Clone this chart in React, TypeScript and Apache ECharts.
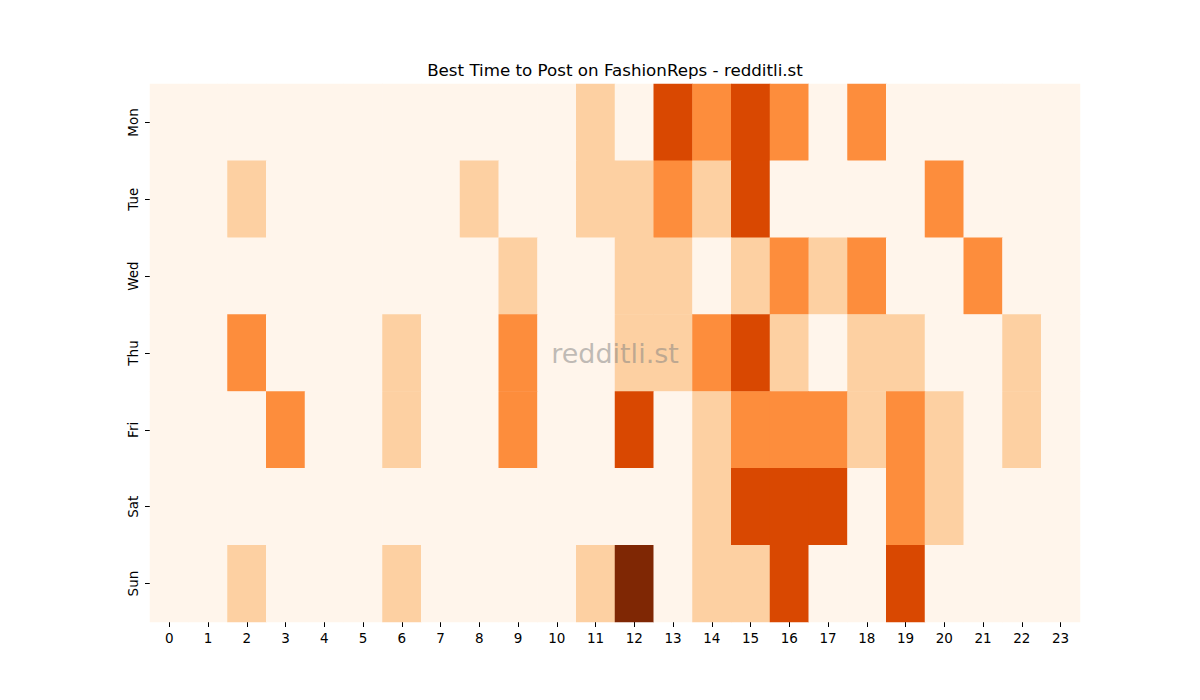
import React, { useEffect, useRef } from "react";
import * as echarts from "echarts";

const hours = Array.from({ length: 24 }, (_, i) => String(i));
const days = ["Mon", "Tue", "Wed", "Thu", "Fri", "Sat", "Sun"];

// Activity level per hour (0 = quiet … 4 = busiest)
const mon = [0, 0, 0, 0, 0, 0, 0, 0, 0, 0, 0, 1, 0, 3, 2, 3, 2, 0, 2, 0, 0, 0, 0, 0];
const tue = [0, 0, 1, 0, 0, 0, 0, 0, 1, 0, 0, 1, 1, 2, 1, 3, 0, 0, 0, 0, 2, 0, 0, 0];
const wed = [0, 0, 0, 0, 0, 0, 0, 0, 0, 1, 0, 0, 1, 1, 0, 1, 2, 1, 2, 0, 0, 2, 0, 0];
const thu = [0, 0, 2, 0, 0, 0, 1, 0, 0, 2, 0, 0, 1, 1, 2, 3, 1, 0, 1, 1, 0, 0, 1, 0];
const fri = [0, 0, 0, 2, 0, 0, 1, 0, 0, 2, 0, 0, 3, 0, 1, 2, 2, 2, 1, 2, 1, 0, 1, 0];
const sat = [0, 0, 0, 0, 0, 0, 0, 0, 0, 0, 0, 0, 0, 0, 1, 3, 3, 3, 0, 2, 1, 0, 0, 0];
const sun = [0, 0, 1, 0, 0, 0, 1, 0, 0, 0, 0, 1, 4, 0, 1, 1, 3, 0, 0, 3, 0, 0, 0, 0];

const rows = [mon, tue, wed, thu, fri, sat, sun];
const palette = ["#fff5eb", "#fdd0a2", "#fd8d3c", "#d94801", "#7f2704"];

export default function App() {
  const ref = useRef<HTMLDivElement>(null);

  useEffect(() => {
    if (!ref.current) return;
    const chart = echarts.init(ref.current, null, { renderer: "svg" });
    const data: number[][] = [];
    rows.forEach((row, y) => row.forEach((v, x) => data.push([x, y, v])));
    const font = "DejaVu Sans";

    chart.setOption({
      animation: false,
      backgroundColor: "#ffffff",
      graphic: [
        {
          type: "text",
          x: 615,
          y: 70,
          style: {
            text: "Best Time to Post on FashionReps - redditli.st",
            textAlign: "center",
            textVerticalAlign: "middle",
            fontFamily: font,
            fontSize: 16.7,
            fill: "#000",
          },
        },
        {
          type: "text",
          x: 615,
          y: 353,
          z: 100,
          style: {
            text: "redditli.st",
            textAlign: "center",
            textVerticalAlign: "middle",
            fontFamily: font,
            fontSize: 27,
            fill: "rgba(128,128,128,0.5)",
          },
        },
      ],
      grid: { left: 150, top: 84, right: 120, bottom: 78 },
      xAxis: {
        type: "category",
        data: hours,
        axisLine: { show: false },
        axisTick: { show: true, alignWithLabel: true, length: 5, lineStyle: { color: "#000" } },
        axisLabel: { fontFamily: font, fontSize: 13.5, color: "#000", margin: 9, interval: 0 },
        splitArea: { show: false },
      },
      yAxis: {
        type: "category",
        data: days,
        inverse: true,
        axisLine: { show: false },
        axisTick: { show: true, alignWithLabel: true, length: 5, lineStyle: { color: "#000" } },
        axisLabel: { fontFamily: font, fontSize: 13.5, color: "#000", rotate: 90, margin: 10, interval: 0 },
        splitArea: { show: false },
      },
      visualMap: {
        show: false,
        min: 0,
        max: 4,
        dimension: 2,
        inRange: { color: palette },
      },
      series: [
        {
          type: "heatmap",
          data,
          itemStyle: { borderWidth: 0 },
          emphasis: { disabled: true },
        },
      ],
    });
    return () => chart.dispose();
  }, []);

  return (
    <div
      ref={ref}
      style={{ position: "fixed", left: 0, top: 0, width: 1200, height: 700 }}
    />
  );
}
